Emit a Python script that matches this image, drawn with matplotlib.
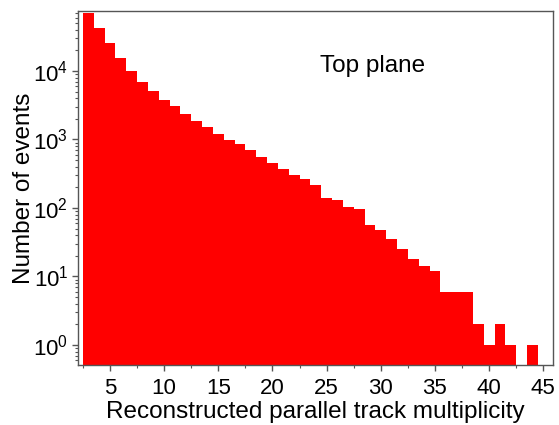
import matplotlib
matplotlib.use("Agg")
import matplotlib.pyplot as plt
from matplotlib.ticker import LogLocator, MultipleLocator, NullFormatter

plt.rcParams['font.family'] = ['Liberation Sans', 'DejaVu Sans']

multiplicity = list(range(3, 45))
counts = [69500, 43000, 25300, 15500, 10000, 6970, 5150, 3790, 3100, 2340,
          1880, 1510, 1200, 980, 860, 705, 560, 458, 366, 300,
          262, 215, 138, 131, 105, 95, 56, 47, 35, 25,
          18, 14, 12, 6, 6, 6, 2, 1, 2, 1,
          0, 1]

fig = plt.figure(figsize=(5.59, 4.25), dpi=100)
ax = fig.add_axes([78/559, 1 - 365/425, (553-78)/559, (365-11)/425])

ax.bar(multiplicity, counts, width=1.0, color='#FF0000', edgecolor='none', align='center')

ax.set_yscale('log')
ax.set_ylim(0.51, 75000)
ax.set_xlim(2.05, 45.9)

ax.xaxis.set_major_locator(MultipleLocator(5))
ax.xaxis.set_minor_locator(MultipleLocator(2.5))
ax.yaxis.set_major_locator(LogLocator(base=10, numticks=10))
ax.yaxis.set_minor_locator(LogLocator(base=10, subs=range(2, 10), numticks=20))
ax.yaxis.set_minor_formatter(NullFormatter())

ax.tick_params(axis='both', which='major', direction='out', length=4, width=1,
               labelsize=16, color='#555555', top=False, right=False, pad=3)
ax.tick_params(axis='x', which='major', pad=5)
ax.tick_params(axis='both', which='minor', direction='out', length=2, width=0.8,
               color='#555555', top=False, right=False)
for s in ax.spines.values():
    s.set_color('#555555')
    s.set_linewidth(1.0)

ax.set_xlabel('Reconstructed parallel track multiplicity', fontsize=17.5, labelpad=2)
ax.set_ylabel('Number of events', fontsize=17.5, labelpad=-1)

ax.text(0.621, 0.845, 'Top plane', transform=ax.transAxes, fontsize=17.5, ha='center', va='center')

fig.savefig('out.png', dpi=100)
